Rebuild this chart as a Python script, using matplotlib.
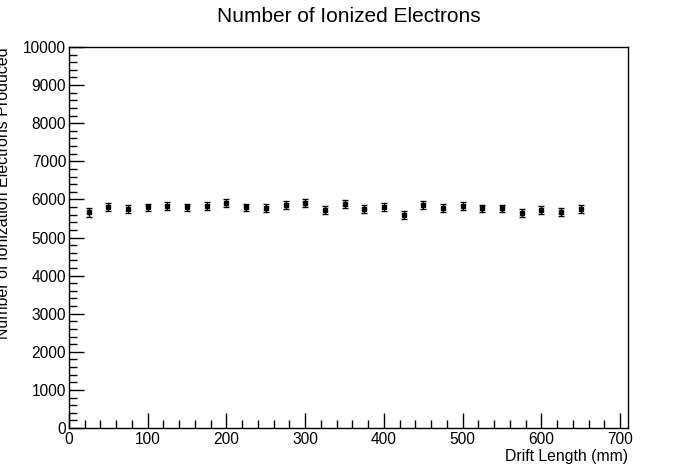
import matplotlib
matplotlib.use("Agg")
import matplotlib.pyplot as plt
from matplotlib.ticker import MultipleLocator

plt.rcParams['font.family'] = ['Liberation Sans', 'DejaVu Sans']

# drift length (mm) and mean number of ionization electrons
drift_length = [25, 50, 75, 100, 125, 150, 175, 200, 225, 250, 275, 300, 325,
                350, 375, 400, 425, 450, 475, 500, 525, 550, 575, 600, 625, 650]
n_electrons = [5660, 5800, 5740, 5790, 5820, 5790, 5830, 5900, 5790, 5775, 5850, 5895, 5720,
               5870, 5745, 5800, 5600, 5850, 5775, 5825, 5765, 5765, 5635, 5720, 5670, 5740]
n_err = [110, 105, 105, 100, 105, 100, 105, 105, 100, 100, 105, 105, 100,
         105, 100, 100, 105, 105, 100, 100, 100, 100, 105, 100, 100, 100]

fig = plt.figure(figsize=(6.98, 4.76), dpi=100)
ax = fig.add_axes([69 / 698, 48 / 476, (628 - 69) / 698, (428 - 47) / 476])

ax.errorbar(drift_length, n_electrons, yerr=n_err, fmt='s', color='black',
            markersize=2.6, elinewidth=1, capsize=2.5, capthick=1)

ax.set_xlim(0, 710)
ax.set_ylim(0, 10000)
ax.xaxis.set_major_locator(MultipleLocator(100))
ax.xaxis.set_minor_locator(MultipleLocator(20))
ax.yaxis.set_major_locator(MultipleLocator(1000))
ax.yaxis.set_minor_locator(MultipleLocator(200))
ax.tick_params(which='both', direction='in', top=False, right=False, labelsize=11.2, width=1)
ax.tick_params(which='major', length=11)
ax.tick_params(which='minor', length=5.5)
ax.tick_params(axis='x', pad=3)
ax.tick_params(axis='y', pad=2)
for s in ax.spines.values():
    s.set_linewidth(1)

fig.text(0.5, 0.965, 'Number of Ionized Electrons', ha='center', va='center', fontsize=15)
ax.set_xlabel('Drift Length (mm)', fontsize=11.3, loc='right', labelpad=1.5)
fig.text(4 / 698, 1 - 47 / 476, 'Number of Ionization Electrons Produced', rotation=90,
         ha='center', va='top', fontsize=11.5)

fig.savefig('out.png', dpi=100)
